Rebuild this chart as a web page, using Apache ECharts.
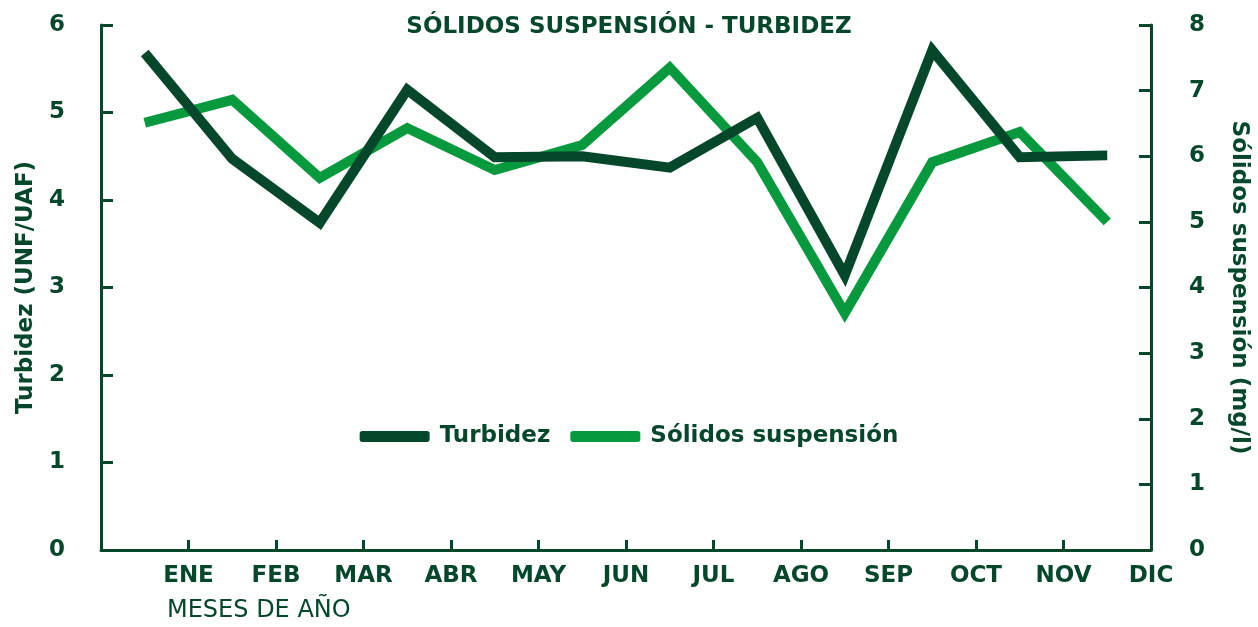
<!DOCTYPE html>
<html>
<head>
<meta charset="utf-8">
<script src="https://cdn.jsdelivr.net/npm/echarts@6/dist/echarts.min.js"></script>
<style>
  html, body { margin: 0; padding: 0; background: #fff; }
  #chart { width: 1258px; height: 627px; }
</style>
</head>
<body>
<div id="chart"></div>
<script>
// datos del gráfico
var meses = ['ENE', 'FEB', 'MAR', 'ABR', 'MAY', 'JUN', 'JUL', 'AGO', 'SEP', 'OCT', 'NOV', 'DIC'];
var turbidez = [5.68, 4.47, 3.74, 5.26, 4.49, 4.50, 4.37, 4.94, 3.14, 5.71, 4.49, 4.51];
var solidos = [6.51, 6.86, 5.67, 6.43, 5.79, 6.17, 7.35, 5.91, 3.61, 5.91, 6.37, 5.00];
var ticksIzq = [0, 1, 2, 3, 4, 5, 6];
var ticksDer = [0, 1, 2, 3, 4, 5, 6, 7, 8];

var oscuro = '#05472b';
var verde = '#07993d';
var fuente = '"DejaVu Sans"';

// puntos en el centro de cada mes, etiquetas en el borde derecho
function puntos(valores) {
  return valores.map(function (v, i) { return [i + 0.5, v]; });
}

var myChart = echarts.init(document.getElementById('chart'));

var option = {
  backgroundColor: '#fff',
  title: [
    {
      text: 'SÓLIDOS SUSPENSIÓN - TURBIDEZ',
      left: 'center',
      top: 11,
      textStyle: { color: oscuro, fontFamily: fuente, fontWeight: 'bold', fontSize: 23 }
    },
    {
      text: 'MESES DE AÑO',
      left: 162,
      top: 594,
      textStyle: { color: oscuro, fontFamily: fuente, fontWeight: 'normal', fontSize: 24 }
    }
  ],
  legend: {
    data: ['Turbidez', 'Sólidos suspensión'],
    left: 'center',
    top: 420,
    icon: 'roundRect',
    itemWidth: 70,
    itemHeight: 11,
    itemGap: 20,
    textStyle: { color: oscuro, fontFamily: fuente, fontWeight: 'bold', fontSize: 23, padding: [0, 0, 0, 5] }
  },
  grid: { left: 101, right: 106, top: 25, bottom: 77 },
  xAxis: {
    type: 'value',
    min: 0,
    max: 12,
    interval: 1,
    splitLine: { show: false },
    axisLine: { show: true, lineStyle: { color: oscuro, width: 3 } },
    axisTick: { show: true, inside: true, length: 10, lineStyle: { color: oscuro, width: 3 } },
    axisLabel: {
      color: oscuro, fontFamily: fuente, fontWeight: 'bold', fontSize: 23, margin: 15,
      formatter: function (v) { return v >= 1 ? meses[v - 1] : ''; }
    }
  },
  yAxis: [
    {
      type: 'value',
      min: ticksIzq[0],
      max: ticksIzq[ticksIzq.length - 1],
      interval: 1,
      name: 'Turbidez (UNF/UAF)',
      nameLocation: 'middle',
      nameGap: 63,
      nameTextStyle: { color: oscuro, fontFamily: fuente, fontWeight: 'bold', fontSize: 23 },
      splitLine: { show: false },
      axisLine: { show: true, lineStyle: { color: oscuro, width: 3 } },
      axisTick: { show: true, inside: true, length: 12, lineStyle: { color: oscuro, width: 3 } },
      axisLabel: { color: oscuro, fontFamily: fuente, fontWeight: 'bold', fontSize: 23, margin: 36 }
    },
    {
      type: 'value',
      min: ticksDer[0],
      max: ticksDer[ticksDer.length - 1],
      interval: 1,
      position: 'right',
      name: 'Sólidos suspensión (mg/l)',
      nameLocation: 'middle',
      nameRotate: -90,
      nameGap: 76,
      nameTextStyle: { color: oscuro, fontFamily: fuente, fontWeight: 'bold', fontSize: 23 },
      splitLine: { show: false },
      axisLine: { show: true, lineStyle: { color: oscuro, width: 3 } },
      axisTick: { show: true, inside: true, length: 12, lineStyle: { color: oscuro, width: 3 } },
      axisLabel: { color: oscuro, fontFamily: fuente, fontWeight: 'bold', fontSize: 23, margin: 38 }
    }
  ],
  series: [
    {
      name: 'Sólidos suspensión',
      type: 'line',
      yAxisIndex: 1,
      data: puntos(solidos),
      symbol: 'none',
      color: verde,
      lineStyle: { color: verde, width: 10, join: 'miter' },
      z: 2
    },
    {
      name: 'Turbidez',
      type: 'line',
      yAxisIndex: 0,
      data: puntos(turbidez),
      symbol: 'none',
      color: oscuro,
      lineStyle: { color: oscuro, width: 10, join: 'miter' },
      z: 3
    }
  ]
};

myChart.setOption(option);
</script>
</body>
</html>
